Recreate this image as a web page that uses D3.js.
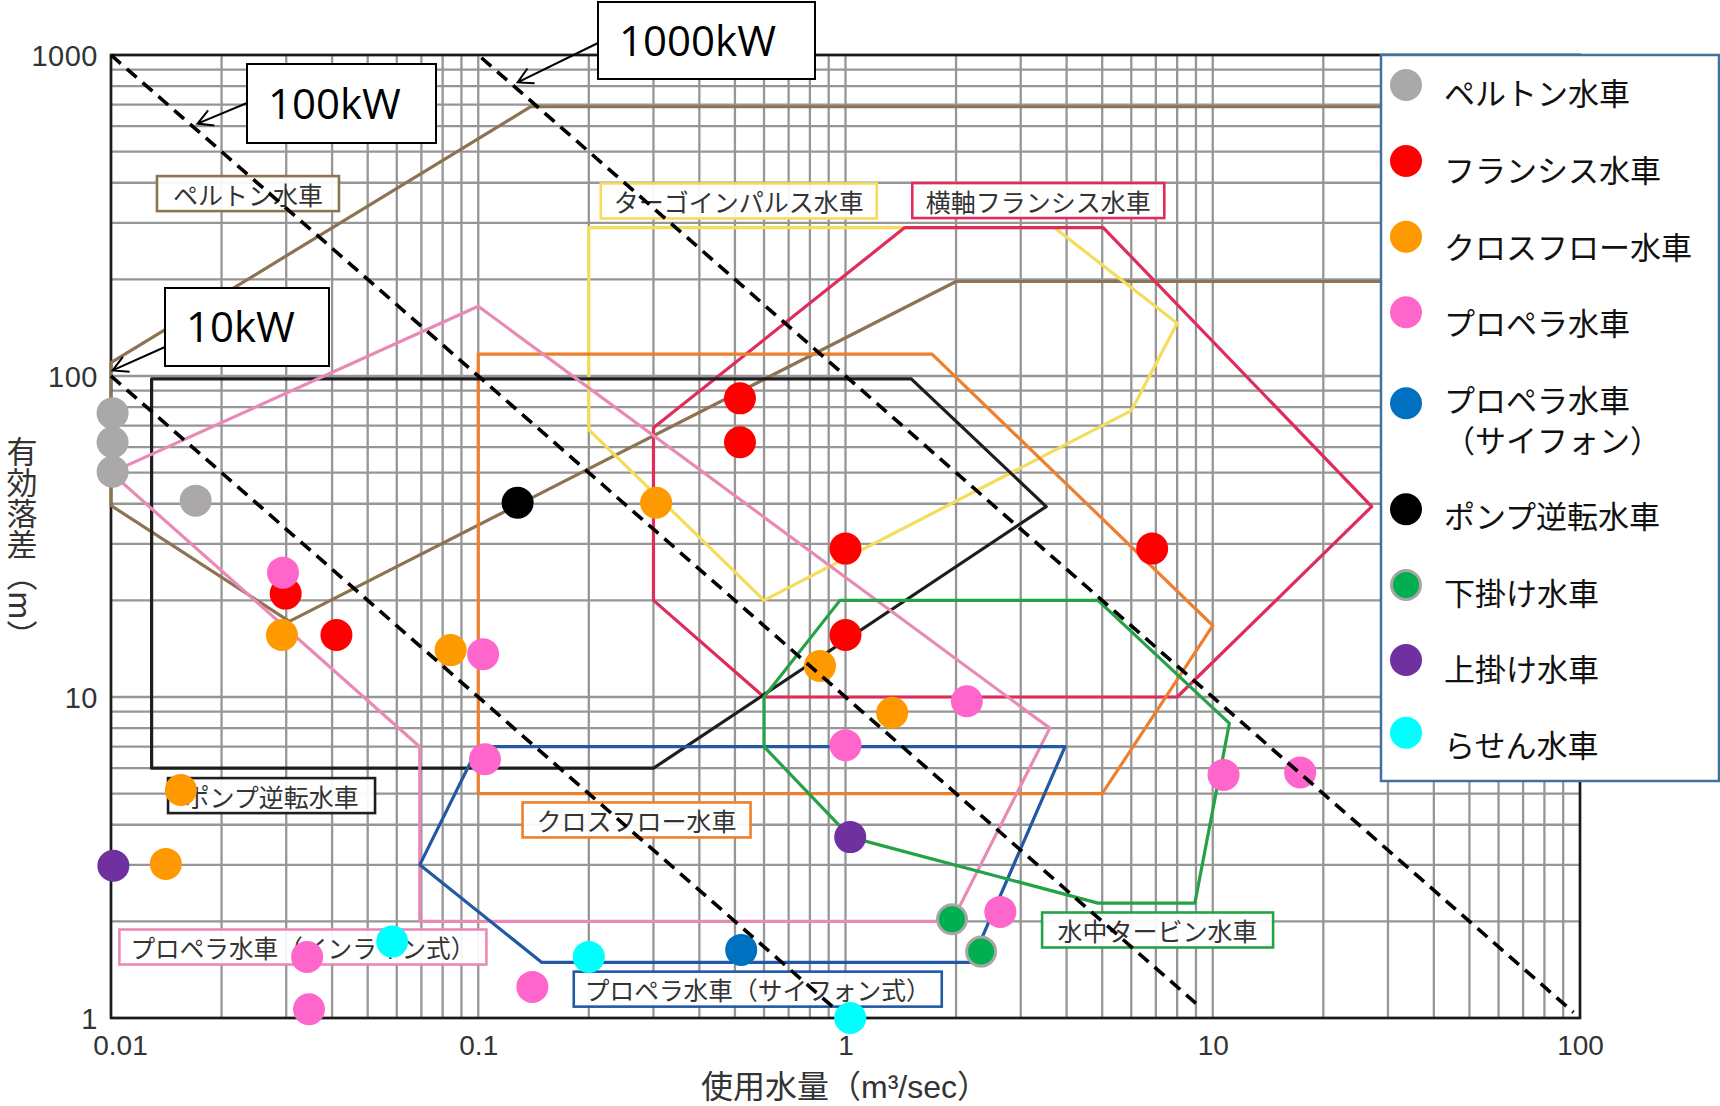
<!DOCTYPE html>
<html>
<head>
<meta charset="utf-8">
<script src="https://cdn.jsdelivr.net/npm/d3@7"></script>
<style>
  html, body { margin: 0; padding: 0; background: #fff; }
  svg { display: block; }
</style>
</head>
<body>
<svg id="chart" width="1720" height="1106"></svg>
<script>
// ---------- axis ticks ----------
const xTickValues = [0.01, 0.1, 1, 10, 100];
const xTickLabels = ["0.01", "0.1", "1", "10", "100"];
const yTickValues = [1, 10, 100, 1000];
const yTickLabels = ["1", "10", "100", "1000"];

// ---------- applicable ranges of each turbine type: [Q (m3/s), H (m)] ----------
const peltonArea      = [[100, 690], [0.139, 690], [0.01, 110], [0.01, 39.5], [0.0306, 17.2], [2.0, 197], [100, 197]];
const turgoArea       = [[0.2, 290], [3.7, 290], [8.0, 146], [6.0, 78], [0.6, 20], [0.2, 68]];
const horizFrancisArea= [[0.3, 69], [1.45, 290], [5.03, 290], [27.1, 39.2], [8.0, 10], [0.6, 10], [0.3, 20]];
const crossflowArea   = [[0.1, 117], [1.72, 117], [10, 16.7], [5, 5], [0.1, 5]];
const pumpArea        = [[0.0129, 98], [1.51, 98], [3.52, 39.2], [0.3, 6], [0.0129, 6]];
const inlineArea      = [[0.01, 50], [0.1, 165], [3.6, 8], [1.95, 2.0], [0.0693, 2.0], [0.0693, 7]];
const siphonArea      = [[0.0693, 3], [0.1, 7], [3.96, 7], [2.2, 1.49], [0.149, 1.49]];
const submersibleArea = [[0.6, 10], [0.966, 20], [4.87, 20], [11.1, 8.28], [8.94, 2.28], [4.87, 2.28], [1.03, 3.66], [0.95, 4.04], [0.6, 7]];

const areaNames = ["ペルトン水車", "ターゴインパルス水車", "横軸フランシス水車", "クロスフロー水車",
                   "ポンプ逆転水車", "プロペラ水車（インライン式）", "プロペラ水車（サイフォン式）", "水中タービン水車"];

// ---------- installed examples: [Q (m3/s), H (m)] ----------
const peltonPts     = [[0.0101, 76.6], [0.0101, 62.2], [0.0101, 50.3], [0.017, 40.9]];
const francisPts    = [[0.0299, 21.0], [0.0411, 15.6], [0.516, 85.2], [0.516, 62.2], [1.0, 29.0], [1.0, 15.6], [6.84, 29.0]];
const crossflowPts  = [[0.0292, 15.6], [0.0841, 14.0], [0.305, 40.3], [0.852, 12.5], [1.34, 8.93], [0.0155, 5.13], [0.0141, 3.02]];
const propellerPts  = [[0.0294, 24.4], [0.1031, 13.6], [0.1043, 6.4], [1.0, 7.08], [2.14, 9.7], [2.64, 2.14],
                       [10.7, 5.72], [17.3, 5.82], [0.0342, 1.55], [0.0346, 1.065], [0.1404, 1.25]];
const siphonPts     = [[0.52, 1.63]];
const pumpPts       = [[0.128, 40.3]];
const undershotPts  = [[1.95, 2.03], [2.34, 1.61]];
const overshotPts   = [[0.01015, 2.98], [1.03, 3.66]];
const spiralPts     = [[0.0583, 1.73], [0.2, 1.55], [1.03, 1.0]];

const seriesNames = ["ペルトン水車", "フランシス水車", "クロスフロー水車", "プロペラ水車",
                     "プロペラ水車\n（サイフォン）", "ポンプ逆転水車", "下掛け水車", "上掛け水車", "らせん水車"];

// ---------- output lines: Q * H = const ----------
const kwLabels = ["10kW", "100kW", "1000kW"];
const kwQH     = [1, 10, 100];
const kwQStart = [0.01, 0.01, 0.102];
const kwQEnd   = [0.92, 9.2, 96];

// ---------- styling / layout ----------
const areaColors = ["#8c7352", "#f4dc5c", "#de2d5b", "#ee7f2d", "#1e1e1e", "#e98ab6", "#2159a5", "#25a246"];
const areaClosed = [false, true, true, true, true, true, true, true];
// label box anchors: left edge Q, vertical centre H; box widths in px
const areaLabelAnchor = [[0.01334, 370], [0.2156, 351], [1.52, 352], [0.132, 4.14],
                         [0.0143, 4.93], [0.01054, 1.664], [0.182, 1.23], [3.43, 1.88]];
const areaLabelWidth = [182, 276, 252, 228, 207, 367, 368, 231];
const seriesFill   = ["#aaa8a8", "#ff0000", "#ff9900", "#ff66cc", "#0070c0", "#000000", "#00b050", "#7030a0", "#00ffff"];
const seriesStroke = [null, null, null, null, null, null, "#a6a6a6", null, null];
const seriesData   = [peltonPts, francisPts, crossflowPts, propellerPts, siphonPts, pumpPts, undershotPts, overshotPts, spiralPts];

const CJK = "'Noto Sans CJK JP', 'Noto Sans', sans-serif";
const LAT = "'Liberation Sans', Arial, 'Noto Sans CJK JP', sans-serif";

const svg = d3.select("#chart");
const x = d3.scaleLog().domain([0.01, 100]).range([111, 1580]);
const y = d3.scaleLog().domain([1, 1000]).range([1018, 55]);

// ---------- grid ----------
const gridQ = [], gridH = [];
[0.01, 0.1, 1, 10].forEach(d => { for (let k = 1; k <= 9; k++) gridQ.push(+(k * d).toPrecision(3)); });
gridQ.push(100);
[1, 10, 100].forEach(d => { for (let k = 1; k <= 9; k++) gridH.push(+(k * d).toPrecision(3)); });
gridH.push(1000);

const grid = svg.append("g").attr("stroke", "#969696").attr("stroke-width", 2.3);
grid.selectAll("line.v").data(gridQ).join("line").attr("class", "v")
  .attr("x1", d => x(d)).attr("x2", d => x(d)).attr("y1", y(1)).attr("y2", y(1000));
grid.selectAll("line.h").data(gridH).join("line").attr("class", "h")
  .attr("y1", d => y(d)).attr("y2", d => y(d)).attr("x1", x(0.01)).attr("x2", x(100));

// frame
svg.append("rect").attr("x", x(0.01)).attr("y", y(1000))
  .attr("width", x(100) - x(0.01)).attr("height", y(1) - y(1000))
  .attr("fill", "none").attr("stroke", "#1a1a1a").attr("stroke-width", 2.6);

// ---------- ranges ----------
const lineGen = d3.line().x(d => x(d[0])).y(d => y(d[1]));
const areas = [peltonArea, turgoArea, horizFrancisArea, crossflowArea, pumpArea, inlineArea, siphonArea, submersibleArea];
const areaG = svg.append("g").attr("fill", "none").attr("stroke-width", 3.2).attr("stroke-linejoin", "round");
areas.forEach((pts, i) => {
  areaG.append("path").attr("d", lineGen(pts) + (areaClosed[i] ? "Z" : ""))
    .attr("stroke", areaColors[i]);
});

// range labels
const labelG = svg.append("g").attr("font-family", CJK).attr("font-size", 25);
areaNames.forEach((name, i) => {
  const bx = x(areaLabelAnchor[i][0]);
  const cy = y(areaLabelAnchor[i][1]);
  const bw = areaLabelWidth[i];
  labelG.append("rect").attr("x", bx).attr("y", cy - 17.5).attr("width", bw).attr("height", 35)
    .attr("fill", "#fff").attr("fill-opacity", 0.92)
    .attr("stroke", areaColors[i]).attr("stroke-width", 2.6);
  const t = labelG.append("text").attr("x", bx + bw / 2).attr("y", cy)
    .attr("text-anchor", "middle")
    .attr("dominant-baseline", "central").attr("fill", "#333").text(name);
  const w = t.node().getComputedTextLength();
  if (w > bw - 22) t.attr("textLength", bw - 22).attr("lengthAdjust", "spacingAndGlyphs");
});

// ---------- examples ----------
const ptG = svg.append("g");
seriesData.forEach((pts, i) => {
  ptG.selectAll(null).data(pts).join("circle")
    .attr("cx", d => x(d[0])).attr("cy", d => y(d[1]))
    .attr("r", seriesStroke[i] ? 14.5 : 16)
    .attr("fill", seriesFill[i])
    .attr("stroke", seriesStroke[i] || "none")
    .attr("stroke-width", seriesStroke[i] ? 3 : 0);
});

// ---------- output lines ----------
const kwG = svg.append("g").attr("fill", "none").attr("stroke", "#000")
  .attr("stroke-width", 3.6).attr("stroke-dasharray", "13 8");
kwQH.forEach((qh, i) => {
  kwG.append("path").attr("d", lineGen([[kwQStart[i], qh / kwQStart[i]], [kwQEnd[i], qh / kwQEnd[i]]]));
});

// callouts: box [x, y, w, h], arrow start y, arrow tip Q on the line
const calloutBox = [[165, 288, 164, 78], [247, 64, 189, 79], [598, 2, 217, 77]];
const calloutArrowY = [347, 103, 43];
const calloutTipQ = [0.0101, 0.0172, 0.128];
const coG = svg.append("g");
kwLabels.forEach((lab, i) => {
  const [bx, by, bw, bh] = calloutBox[i];
  const tx = x(calloutTipQ[i]);
  const ty = y(kwQH[i] / calloutTipQ[i]) - 7;
  const sx = bx, sy = calloutArrowY[i];
  const ang = Math.atan2(sy - ty, sx - tx);
  const L = 17, a = 0.5;
  coG.append("path")
    .attr("d", `M${sx},${sy}L${tx},${ty}M${tx + L * Math.cos(ang - a)},${ty + L * Math.sin(ang - a)}L${tx},${ty}L${tx + L * Math.cos(ang + a)},${ty + L * Math.sin(ang + a)}`)
    .attr("fill", "none").attr("stroke", "#000").attr("stroke-width", 2);
  coG.append("rect").attr("x", bx).attr("y", by).attr("width", bw).attr("height", bh)
    .attr("fill", "#fff").attr("stroke", "#000").attr("stroke-width", 2);
  coG.append("text").attr("x", bx + 21).attr("y", by + bh / 2 + 15)
    .attr("font-family", "'Open Sans', sans-serif").attr("font-size", 42)
    .attr("fill", "#000").text(lab);
});

// ---------- axes ----------
const xAxis = d3.axisBottom(x).tickValues(xTickValues)
  .tickFormat((d, i) => xTickLabels[i]).tickSize(0).tickPadding(0);
const xa = svg.append("g").attr("transform", `translate(0, 1055)`).call(xAxis);
xa.select(".domain").remove();
xa.selectAll("text").attr("font-family", LAT).attr("font-size", 28).attr("fill", "#333")
  .attr("dy", 0).attr("dx", (d, i) => i === 0 ? 9 : 0);

const yAxis = d3.axisLeft(y).tickValues(yTickValues)
  .tickFormat((d, i) => yTickLabels[i]).tickSize(0).tickPadding(0);
const ya = svg.append("g").attr("transform", `translate(98, 0)`).call(yAxis);
ya.select(".domain").remove();
ya.selectAll("text").attr("font-family", LAT).attr("font-size", 29).attr("fill", "#333")
  .attr("letter-spacing", 0.5).attr("dy", "0.35em");

svg.append("text").attr("x", 845).attr("y", 1098).attr("text-anchor", "middle")
  .attr("font-family", LAT).attr("font-size", 32).attr("fill", "#333")
  .text("使用水量（m³/sec）");

svg.append("text").attr("x", 22).attr("y", 436)
  .style("writing-mode", "vertical-rl")
  .attr("font-family", CJK).attr("font-size", 31).attr("fill", "#333")
  .text("有効落差（m）");

// ---------- legend ----------
const legendMarkerY = [85, 161, 236.7, 312.3, 403.3, 509.3, 585, 660, 732.7];
const legendTextY   = [90.8, 168.3, 245, 320.8, 398, 514, 590.7, 667, 743];
const leg = svg.append("g");
leg.append("rect").attr("x", 1381).attr("y", 55).attr("width", 338).attr("height", 726)
  .attr("fill", "#fff").attr("stroke", "#41719c").attr("stroke-width", 2.5);
seriesNames.forEach((name, i) => {
  leg.append("circle").attr("cx", 1406).attr("cy", legendMarkerY[i])
    .attr("r", seriesStroke[i] ? 14.5 : 16).attr("fill", seriesFill[i])
    .attr("stroke", seriesStroke[i] || "none").attr("stroke-width", seriesStroke[i] ? 3 : 0);
  const t = leg.append("text").attr("x", 1444).attr("y", legendTextY[i])
    .attr("dominant-baseline", "central")
    .attr("font-family", CJK).attr("font-size", 31).attr("fill", "#111");
  name.split("\n").forEach((ln, j) => {
    t.append("tspan").attr("x", 1444).attr("dy", j === 0 ? 0 : 40)
      .attr("dominant-baseline", "central").text(ln);
  });
});
</script>
</body>
</html>
